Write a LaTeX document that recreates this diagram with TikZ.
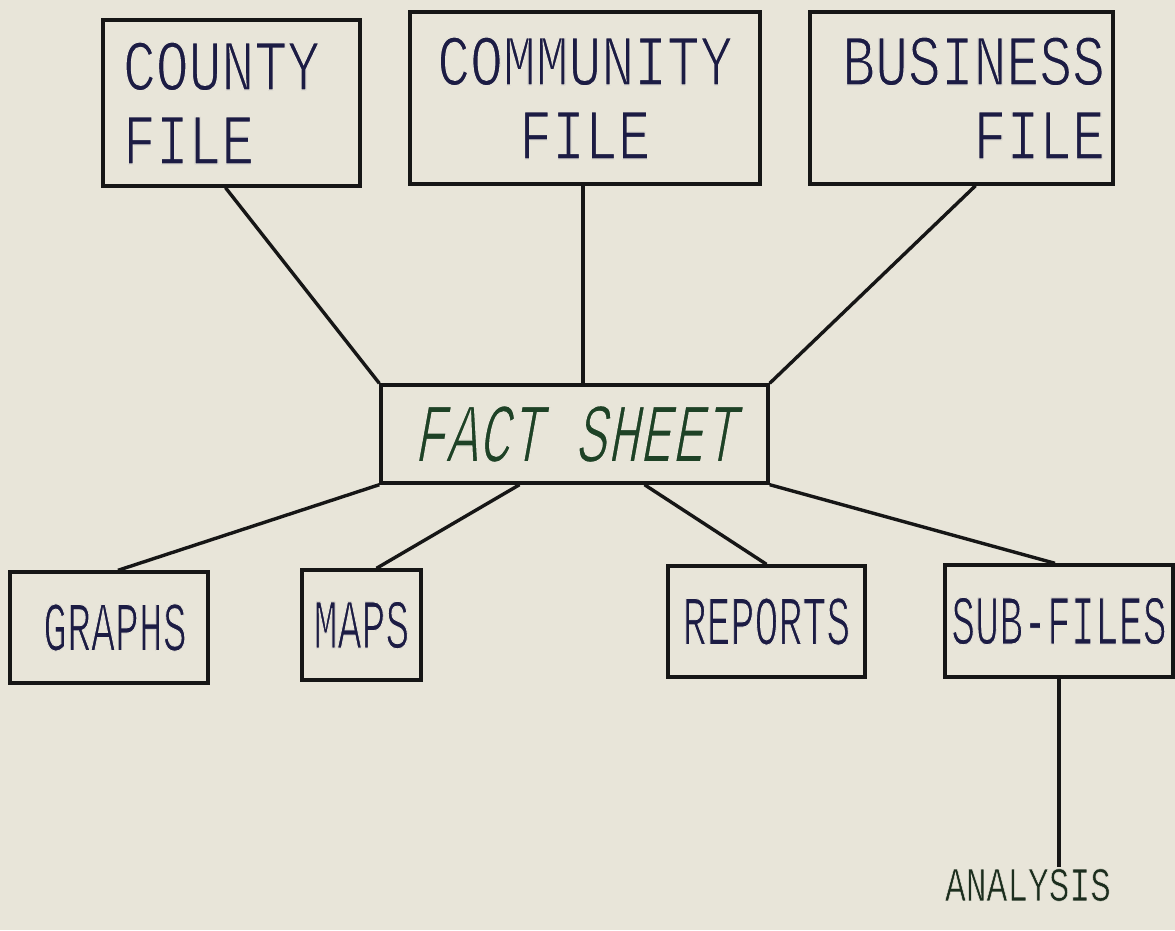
\documentclass[tikz,border=0pt]{standalone}
\usepackage{fontspec}
\newfontfamily\plottop[FakeStretch=0.76]{Liberation Mono}
\newfontfamily\plotfact[FakeStretch=0.64,FakeSlant=0.18]{Liberation Mono}
\newfontfamily\plotlow[FakeStretch=0.57]{Liberation Mono}
\newfontfamily\plotsmall[FakeStretch=0.72]{Liberation Mono}
\definecolor{paper}{HTML}{E8E5D9}
\definecolor{ink}{HTML}{161616}
\definecolor{navy}{HTML}{1C1C44}
\definecolor{leaf}{HTML}{1E4226}
\definecolor{moss}{HTML}{1C2E1E}
% thin pen strokes: glyphs filled, then edged in paper colour (#1 = edge width)
\newcommand{\penline}[2][1.2]{\special{pdf:code q 2 Tr #1 w 0.91 0.898 0.851 RG}#2\special{pdf:code Q}}
\begin{document}
\begin{tikzpicture}[x=1pt,y=-1pt,
  box/.style={draw=ink,line width=3.4pt,inner ysep=0pt},
  link/.style={draw=ink,line width=3.4pt},
  toptext/.style={font=\plottop\fontsize{72}{74}\selectfont,text=navy},
  lowtext/.style={font=\plotlow\fontsize{70}{70}\selectfont,text=navy}]
\fill[paper] (0,0) rectangle (1175,930);
\useasboundingbox (0,0) rectangle (1175,930);

% source files
\node[box,toptext,align=left,inner xsep=20pt,text width=217pt,minimum height=166pt] (county) at (231.5,103) {\penline{COUNTY}\\\penline{FILE}};
\node[box,toptext,align=center,inner xsep=10pt,text width=330pt,minimum height=172pt] (community) at (585,98) {\penline{COMMUNITY}\\\penline{FILE}};
\node[box,toptext,align=right,inner xsep=8pt,text width=287pt,minimum height=172pt] (business) at (961.5,98) {\penline{BUSINESS}\\\penline{FILE}};

% central sheet
\node[box,font=\plotfact\fontsize{84}{84}\selectfont,text=leaf,minimum width=387pt,minimum height=98pt] (fact) at (574.5,434) {\penline[1.3]{FACT SHEET}};

% outputs
\node[box,lowtext,minimum width=198pt,minimum height=111pt] (graphs) at (109,627.5) {\hspace*{12pt}\penline[0.9]{GRAPHS}};
\node[box,lowtext,minimum width=119pt,minimum height=110pt] (maps) at (361.5,625) {\penline[0.9]{MAPS}};
\node[box,lowtext,minimum width=197pt,minimum height=111pt] (reports) at (766.5,621.5) {\penline[0.9]{REPORTS}};
\node[box,lowtext,minimum width=228pt,minimum height=112pt] (subfiles) at (1059,621) {\penline[0.9]{SUB-FILES}};
\node[font=\plotsmall\fontsize{48}{48}\selectfont,text=moss,inner sep=2pt] (analysis) at (1028,885) {\penline[0.5]{ANALYSIS}};

% connectors
\draw[link] ([xshift=-6pt]county.south) -- (fact.north west);
\draw[link] ([xshift=-2pt]community.south) -- ([xshift=-2pt]community.south |- fact.north);
\draw[link] ([xshift=14pt]business.south) -- (fact.north east);
\draw[link] (fact.south west) -- ([xshift=9pt]graphs.north);
\draw[link] ([xshift=-55pt]fact.south) -- ([xshift=15pt]maps.north);
\draw[link] ([xshift=70pt]fact.south) -- (reports.north);
\draw[link] (fact.south east) -- ([xshift=-4pt]subfiles.north);
\draw[link] (subfiles.south) -- (subfiles.south |- analysis.north);
\end{tikzpicture}
\end{document}
